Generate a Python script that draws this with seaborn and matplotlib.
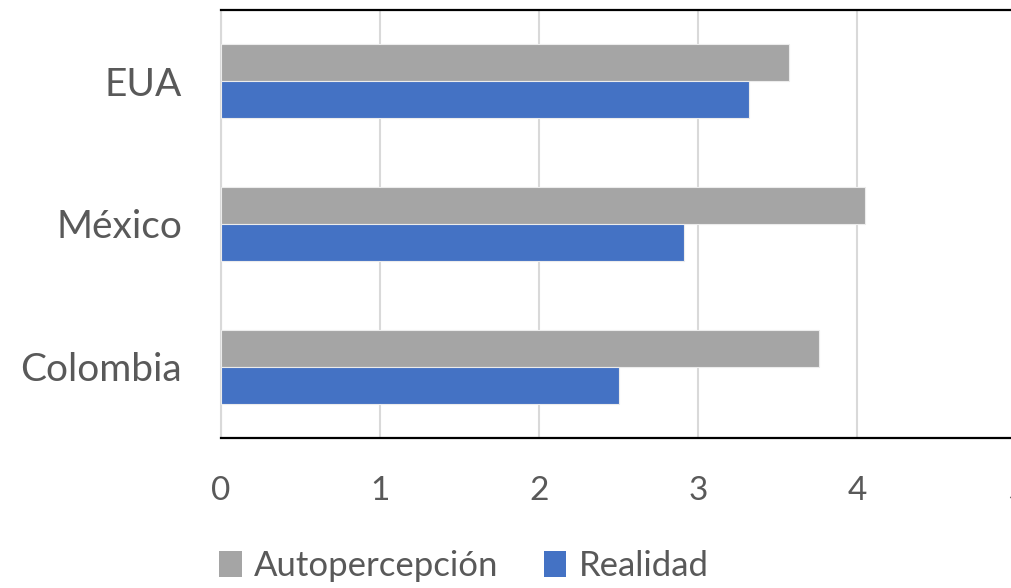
import matplotlib
matplotlib.use("Agg")
import matplotlib.pyplot as plt
import seaborn as sns
import pandas as pd
from matplotlib.patches import Patch

categories = ["EUA", "México", "Colombia"]
autopercepcion = [3.57, 4.05, 3.76]
realidad = [3.32, 2.91, 2.50]
series_names = ["Autopercepción", "Realidad"]
xticks = [0, 1, 2, 3, 4, 5]

df = pd.DataFrame({
    "pais": categories * 2,
    "valor": autopercepcion + realidad,
    "serie": [series_names[0]] * 3 + [series_names[1]] * 3,
})

sns.set_theme(style="white")
plt.rcParams["font.family"] = ["Lato", "DejaVu Sans"]
TXT = "#595959"
colors = {"Autopercepción": "#A5A5A5", "Realidad": "#4472C4"}

fig = plt.figure(figsize=(10.12, 5.88), dpi=100)
ax = fig.add_axes([221/1012, 1-438/588, (1016.5-221)/1012, (438-10)/588])

sns.barplot(data=df, y="pais", x="valor", hue="serie", order=categories,
            hue_order=series_names, palette=colors, orient="h", width=0.52,
            saturation=1, edgecolor="#ececec", linewidth=0.8, ax=ax,
            legend=False, zorder=3)

ax.set_xlim(0, 5)
ax.set_ylim(2.5, -0.5)
ax.set_xticks(xticks)
ax.set_xticklabels([str(t) for t in xticks])
ax.xaxis.grid(True, color="#d9d9d9", linewidth=1.5, zorder=0)
ax.set_axisbelow(True)
ax.set_xlabel("")
ax.set_ylabel("")
ax.tick_params(axis="x", length=0, pad=27, labelsize=24, labelcolor=TXT)
ax.tick_params(axis="y", length=0, pad=28, labelsize=28, labelcolor=TXT)

for s in ["top", "bottom"]:
    ax.spines[s].set_color("black")
    ax.spines[s].set_linewidth(1.6)
ax.spines["left"].set_color("#d9d9d9")
ax.spines["left"].set_linewidth(1.5)
ax.spines["right"].set_visible(False)

handles = [Patch(facecolor=colors[n], edgecolor="none", label=n) for n in series_names]
fig.legend(handles=handles, loc="center", bbox_to_anchor=(464/1012, 1-566/588),
           ncol=2, frameon=False, fontsize=25, labelcolor=TXT,
           handlelength=0.65, handleheight=0.75, handletextpad=0.35,
           columnspacing=1.3, borderaxespad=0)

fig.savefig("out.png", dpi=100)
